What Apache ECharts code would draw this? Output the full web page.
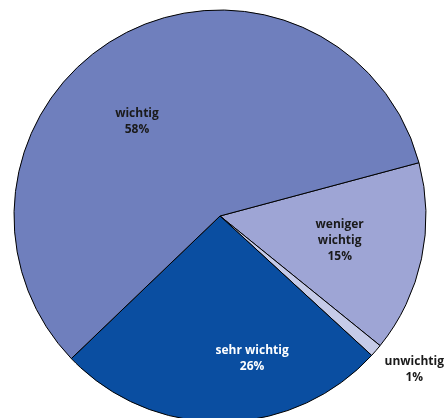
<!DOCTYPE html>
<html>
<head>
<meta charset="utf-8">
<script src="https://cdn.jsdelivr.net/npm/echarts@6/dist/echarts.min.js"></script>
<style>
    html, body { margin: 0; padding: 0; background: #fff; }
    #chart { width: 447px; height: 418px; }
</style>
</head>
<body>
<div id="chart"></div>
<script>
// slices in clockwise order, starting at the upper right
const names = ['weniger\nwichtig', 'unwichtig', 'sehr wichtig', 'wichtig'];
const values = [15, 1, 26, 58];
const colors = ['#9ea5d5', '#c6cbe8', '#0a4ea1', '#6f7fbd'];
const labelColors = ['#1a1a1a', '#1a1a1a', '#ffffff', '#1a1a1a'];
const labelOffsets = [[16, 3], [114, 84], [31, 37], [-31, -2]];

let chart = echarts.init(document.getElementById('chart'));

const option = {
    animation: false,
    series: [
        {
            type: 'pie',
            center: [220, 216],
            radius: [0, 206],
            startAngle: 15,
            clockwise: true,
            itemStyle: {
                borderColor: '#000',
                borderWidth: 1
            },
            labelLine: { show: false },
            emphasis: { disabled: true },
            data: names.map(function (n, i) {
                return {
                    name: n,
                    value: values[i],
                    itemStyle: { color: colors[i] },
                    label: {
                        color: labelColors[i],
                        offset: labelOffsets[i]
                    }
                };
            }),
            label: {
                show: true,
                position: 'inside',
                formatter: '{b}\n{d}%',
                fontFamily: 'Open Sans',
                fontWeight: 'bold',
                fontSize: 12,
                lineHeight: 16,
                align: 'center'
            }
        }
    ]
};

chart.setOption(option);
</script>
</body>
</html>
